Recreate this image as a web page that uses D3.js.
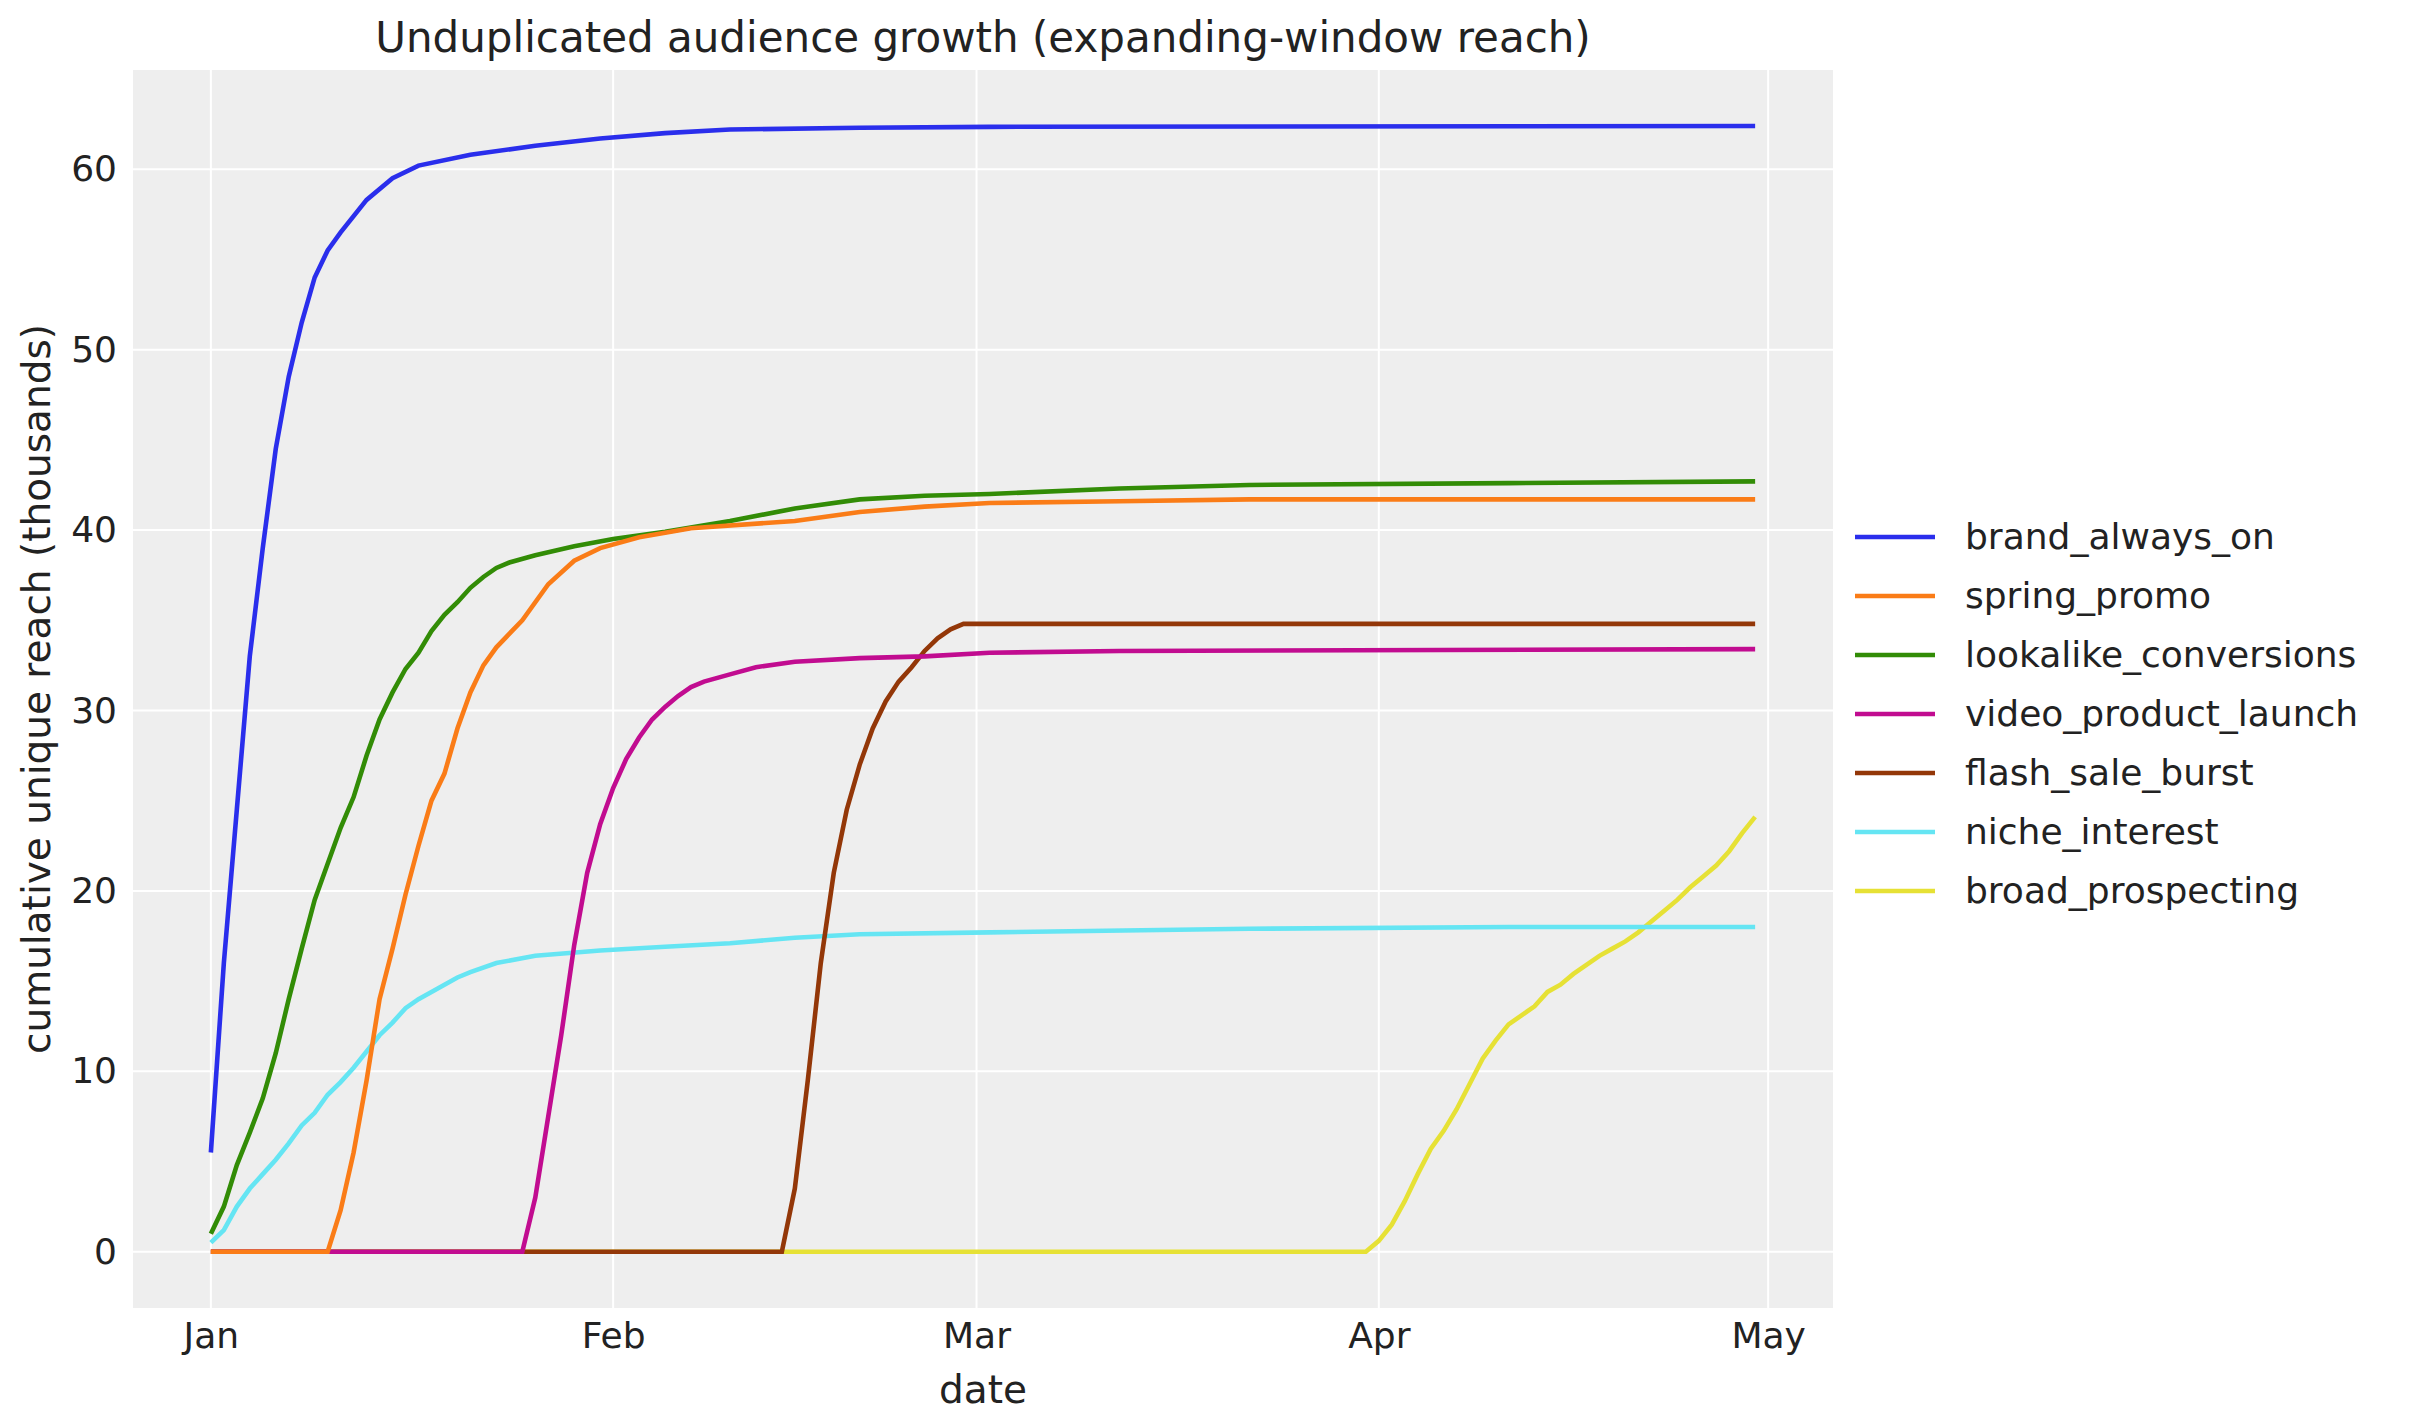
<!DOCTYPE html>
<html><head><meta charset="utf-8">
<script src="https://cdn.jsdelivr.net/npm/d3@7"></script>
<style>body{margin:0;background:#fff}text{font-family:"DejaVu Sans",sans-serif;fill:#222}</style>
</head><body><svg id="chart" width="2412" height="1423"></svg>
<script>
// days since 2025-01-01, values in thousands
var seriesNames = ["brand_always_on","spring_promo","lookalike_conversions","video_product_launch","flash_sale_burst","niche_interest","broad_prospecting"];
var colors = ["#2a2eec","#fa7c17","#328c06","#c10c90","#933708","#65e5f3","#e6e135"];

var brandDays = [0,1,2,3,4,5,6,7,8,9,10,12,14,16,20,25,30,35,40,50,60,119];
var brandVals = [5.5,16,24.5,33,39,44.5,48.5,51.5,54,55.5,56.5,58.3,59.5,60.2,60.8,61.3,61.7,62.0,62.2,62.3,62.35,62.4];
var springDays = [0,9,10,11,12,13,14,15,16,17,18,19,20,21,22,24,26,28,30,33,37,45,50,55,60,70,80,119];
var springVals = [0,0,2.3,5.5,9.5,14,16.8,19.8,22.5,25,26.5,29,31,32.5,33.5,35,37,38.3,39,39.6,40.1,40.5,41,41.3,41.5,41.6,41.7,41.7];
var lookDays = [0,1,2,3,4,5,6,7,8,9,10,11,12,13,14,15,16,17,18,19,20,21,22,23,25,28,31,35,40,45,50,55,60,70,80,100,119];
var lookVals = [1,2.5,4.8,6.6,8.5,11,14,16.8,19.5,21.5,23.5,25.2,27.5,29.5,31,32.3,33.2,34.4,35.3,36,36.8,37.4,37.9,38.2,38.6,39.1,39.5,39.9,40.5,41.2,41.7,41.9,42.0,42.3,42.5,42.6,42.7];
var videoDays = [0,24,25,26,27,28,29,30,31,32,33,34,35,36,37,38,40,42,45,50,55,60,70,119];
var videoVals = [0,0,3,7.5,12,17,21,23.7,25.7,27.3,28.5,29.5,30.2,30.8,31.3,31.6,32.0,32.4,32.7,32.9,33.0,33.2,33.3,33.4];
var flashDays = [0,44,45,46,47,48,49,50,51,52,53,54,55,56,57,58,119];
var flashVals = [0,0,3.5,9.5,16,21,24.5,27,29,30.5,31.6,32.4,33.3,34,34.5,34.8,34.8];
var nicheDays = [0,1,2,3,4,5,6,7,8,9,10,11,12,13,14,15,16,17,18,19,20,22,25,30,35,40,45,50,60,80,100,119];
var nicheVals = [0.5,1.2,2.5,3.5,4.3,5.1,6,7,7.7,8.7,9.4,10.2,11.1,12,12.7,13.5,14,14.4,14.8,15.2,15.5,16.0,16.4,16.7,16.9,17.1,17.4,17.6,17.7,17.9,18.0,18.0];
var broadDays = [0,89,90,91,92,93,94,95,96,97,98,99,100,101,102,103,104,105,106,107,108,109,110,111,112,113,114,115,116,117,118,119];
var broadVals = [0,0,0.6,1.5,2.8,4.3,5.7,6.7,7.9,9.3,10.7,11.7,12.6,13.1,13.6,14.4,14.8,15.4,15.9,16.4,16.8,17.2,17.7,18.3,18.9,19.5,20.2,20.8,21.4,22.2,23.2,24.1];

var allDays = [brandDays,springDays,lookDays,videoDays,flashDays,nicheDays,broadDays];
var allVals = [brandVals,springVals,lookVals,videoVals,flashVals,nicheVals,broadVals];
var yTicks = [0,10,20,30,40,50,60];
var xTickDates = ["2025-01-01","2025-02-01","2025-03-01","2025-04-01","2025-05-01"];
var xTickLabels = ["Jan","Feb","Mar","Apr","May"];

var start = new Date(2025,0,1);
function dayToDate(d){ return d3.timeDay.offset(start, d); }

var svg = d3.select("#chart");
var L = 133, R = 1833, T = 70, B = 1308;

var x = d3.scaleTime().domain([dayToDate(-6), dayToDate(125)]).range([L, R]);
var y = d3.scaleLinear().domain([-3.12, 65.5]).range([B, T]);

svg.append("rect").attr("x",L).attr("y",T).attr("width",R-L).attr("height",B-T).attr("fill","#eeeeee");

var xt = xTickDates.map(function(s){ return d3.timeParse("%Y-%m-%d")(s); });
var g = svg.append("g");
xt.forEach(function(d){
  g.append("line").attr("x1",x(d)).attr("x2",x(d)).attr("y1",T).attr("y2",B).attr("stroke","#fff").attr("stroke-width",2);
});
yTicks.forEach(function(v){
  g.append("line").attr("x1",L).attr("x2",R).attr("y1",y(v)).attr("y2",y(v)).attr("stroke","#fff").attr("stroke-width",2);
});

var xAxis = svg.append("g").attr("transform","translate(0,"+B+")")
  .call(d3.axisBottom(x).tickValues(xt).tickFormat(function(d,i){ return xTickLabels[i]; }).tickSize(0).tickPadding(14));
var yAxis = svg.append("g").attr("transform","translate("+L+",0)")
  .call(d3.axisLeft(y).tickValues(yTicks).tickSize(0).tickPadding(16));
[xAxis,yAxis].forEach(function(a){
  a.select(".domain").remove();
  a.selectAll("text").style("font-size","36px").style("font-family","DejaVu Sans").attr("fill","#222");
});

var line = d3.line().x(function(d){ return x(dayToDate(d[0])); }).y(function(d){ return y(d[1]); });
// draw in reverse so brand sits on top
for (var i = seriesNames.length-1; i >= 0; i--) {
  var pts = allDays[i].map(function(d,j){ return [d, allVals[i][j]]; });
  svg.append("path").datum(pts).attr("d",line).attr("fill","none").attr("stroke",colors[i]).attr("stroke-width",4.6);
}

svg.append("text").attr("x",(L+R)/2).attr("y",52).attr("text-anchor","middle").style("font-size","42px").text("Unduplicated audience growth (expanding-window reach)");
svg.append("text").attr("x",(L+R)/2).attr("y",1403).attr("text-anchor","middle").style("font-size","39px").text("date");
svg.append("text").attr("transform","translate(50,"+((T+B)/2)+") rotate(-90)").attr("text-anchor","middle").style("font-size","39px").text("cumulative unique reach (thousands)");

var leg = svg.append("g");
seriesNames.forEach(function(n,i){
  var yy = 537 + i*59;
  leg.append("line").attr("x1",1855).attr("x2",1935).attr("y1",yy).attr("y2",yy).attr("stroke",colors[i]).attr("stroke-width",4.6);
  leg.append("text").attr("x",1965).attr("y",yy+12).style("font-size","36px").text(n);
});
</script></body></html>
